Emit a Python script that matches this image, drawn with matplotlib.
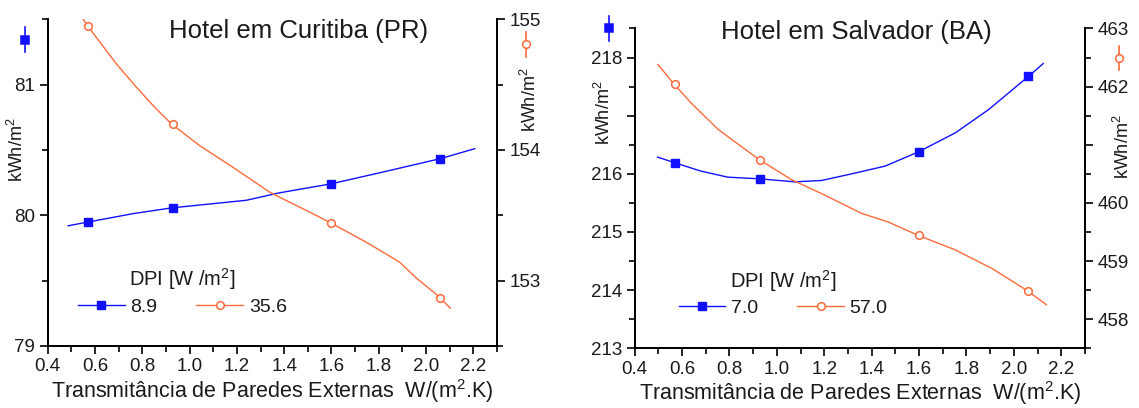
import matplotlib
matplotlib.use("Agg")
import matplotlib.pyplot as plt
from matplotlib.lines import Line2D
from matplotlib.ticker import MultipleLocator, FixedLocator, FuncFormatter

plt.rcParams['font.family'] = ['Liberation Sans', 'DejaVu Sans']

# ---------------- data ----------------
x_pts = [0.57, 0.93, 1.60, 2.06]
x_ticks = [0.4, 0.6, 0.8, 1.0, 1.2, 1.4, 1.6, 1.8, 2.0, 2.2]

# Curitiba
cur_blue_pts = [79.95, 80.057, 80.24, 80.433]
cur_orange_pts = [154.95, 154.196, 153.443, 152.87]
cur_blue_curve_x = [0.487, 0.575, 0.762, 0.925, 1.24, 1.38, 1.596, 1.803, 2.059, 2.206]
cur_blue_curve_y = [79.92, 79.95, 80.013, 80.057, 80.115, 80.172, 80.24, 80.325, 80.433, 80.51]
cur_orange_curve_x = [0.551, 0.569, 0.692, 0.776, 0.860, 0.926, 1.043, 1.183, 1.339, 1.394,
                      1.494, 1.596, 1.746, 1.887, 1.957, 2.053, 2.102]
cur_orange_curve_y = [155.0, 154.95, 154.656, 154.479, 154.313, 154.196, 154.033, 153.868,
                      153.677, 153.626, 153.537, 153.443, 153.295, 153.143, 153.023,
                      152.88, 152.79]
cur_labels = ['8.9', '35.6']

# Salvador
sal_blue_pts = [216.19, 215.914, 216.38, 217.684]
sal_orange_pts = [462.05, 460.74, 459.44, 458.49]
sal_blue_curve_x = [0.497, 0.57, 0.680, 0.793, 0.928, 1.076, 1.189, 1.316, 1.457, 1.598,
                    1.754, 1.895, 2.064, 2.124]
sal_blue_curve_y = [216.288, 216.19, 216.047, 215.943, 215.914, 215.862, 215.886, 216.0,
                    216.133, 216.379, 216.707, 217.11, 217.684, 217.897]
sal_orange_curve_x = [0.499, 0.565, 0.638, 0.751, 0.850, 0.928, 1.062, 1.189, 1.358, 1.471,
                      1.598, 1.754, 1.909, 2.057, 2.137]
sal_orange_curve_y = [462.38, 462.05, 461.72, 461.27, 460.97, 460.74, 460.40, 460.16, 459.82,
                      459.67, 459.44, 459.19, 458.87, 458.49, 458.25]
sal_labels = ['7.0', '57.0']

BLUE = '#1010ff'
ORANGE = '#ff6a3a'
TXT = '#1a1a1a'

fig = plt.figure(figsize=(11.39, 4.08), dpi=100)


def style_axis(ax):
    for s in ['left', 'right', 'bottom']:
        ax.spines[s].set_linewidth(1.3)
    ax.spines['top'].set_visible(False)
    ax.tick_params(which='major', direction='out', length=6, width=1.2,
                   labelsize=13.5, colors='black', labelcolor=TXT, pad=3)
    ax.tick_params(which='minor', direction='out', length=4, width=1.2)


def panel(rect, title, title_pos, ylimL, ylimR, yticksL, yticksR, hideL, hideR,
          bx, by, ox, oy, bpts, opts, labels, leg_pos,
          ylab_L, ylab_R, ind_b, ind_o):
    ax = fig.add_axes(rect)
    ax2 = ax.twinx()
    ax.plot(bx, by, color=BLUE, lw=1.0, zorder=3)
    ax.plot(x_pts, bpts, ls='none', marker='s', ms=6, color=BLUE, zorder=4)
    ax2.plot(ox, oy, color=ORANGE, lw=1.0, zorder=3)
    ax2.plot(x_pts, opts, ls='none', marker='o', ms=5.5, mfc='white', mec=ORANGE,
             mew=1.1, zorder=4)
    ax.set_xlim(0.4, 2.3)
    ax.set_ylim(*ylimL)
    ax2.set_ylim(*ylimR)
    ax.xaxis.set_major_locator(FixedLocator(x_ticks))
    ax.xaxis.set_major_formatter(FuncFormatter(lambda v, p: f"{v:.1f}"))
    ax.xaxis.set_minor_locator(MultipleLocator(0.1))
    ax.yaxis.set_major_locator(FixedLocator(yticksL))
    ax.yaxis.set_major_formatter(FuncFormatter(
        lambda v, p: '' if round(v) in hideL else f"{v:.0f}"))
    ax.yaxis.set_minor_locator(MultipleLocator(0.5))
    ax2.yaxis.set_major_locator(FixedLocator(yticksR))
    ax2.yaxis.set_major_formatter(FuncFormatter(
        lambda v, p: '' if round(v) in hideR else f"{v:.0f}"))
    ax2.yaxis.set_minor_locator(MultipleLocator(0.5))
    for a in (ax, ax2):
        style_axis(a)
    ax.patch.set_visible(False)

    ax.set_xlabel('Transmitância de Paredes Externas  W/(m$^\\mathregular{2}$.K)',
                  fontsize=15.5, color=TXT, labelpad=1)
    ax.set_ylabel('kWh/m$^\\mathregular{2}$', fontsize=13, color=TXT)
    ax.yaxis.set_label_coords(*ylab_L)
    ax2.set_ylabel('kWh/m$^\\mathregular{2}$', fontsize=13, color=TXT, rotation=90)
    ax2.yaxis.set_label_coords(*ylab_R)

    ax.text(title_pos[0], title_pos[1], title, transform=ax.transAxes,
            ha='center', va='baseline', fontsize=18.5, color=TXT)

    # axis indicators
    for (ix, iy), col, mk, mfc in ((ind_b, BLUE, 's', BLUE), (ind_o, ORANGE, 'o', 'white')):
        ax.add_line(Line2D([ix, ix], [iy - 0.038, iy + 0.038], transform=ax.transAxes,
                           color=col, lw=1.2, clip_on=False))
        ax.add_line(Line2D([ix], [iy], transform=ax.transAxes, color=col, marker=mk,
                           ms=6 if mk == 's' else 5.5, mfc=mfc, mec=col, mew=1.1,
                           ls='none', clip_on=False))

    h1 = Line2D([], [], color=BLUE, lw=1.0, marker='s', ms=6)
    h2 = Line2D([], [], color=ORANGE, lw=1.0, marker='o', ms=5.5, mfc='white', mec=ORANGE,
                mew=1.1)
    leg = ax2.legend([h1, h2], labels, title='DPI [W /m$^\\mathregular{2}$]', ncol=2,
                     loc='center', bbox_to_anchor=leg_pos, frameon=False, fontsize=14,
                     title_fontsize=14.5, handlelength=2.4, handletextpad=0.3,
                     columnspacing=2.0, borderpad=0.2, labelspacing=0.3)
    for t in leg.get_texts():
        t.set_color(TXT)
    leg.get_title().set_color(TXT)
    return ax, ax2


panel([0.0418, 0.152, 0.3946, 0.8007], 'Hotel em Curitiba (PR)', (0.559, 0.943),
      (79, 81.5), (152.5, 155.0), [79, 80, 81], [153, 154, 155], [], [],
      cur_blue_curve_x, cur_blue_curve_y, cur_orange_curve_x, cur_orange_curve_y,
      cur_blue_pts, cur_orange_pts, cur_labels, (0.30, 0.168),
      (-0.046, 0.60), (1.051, 0.753), (-0.050, 0.937), (1.064, 0.924))

panel([0.5571, 0.1463, 0.3955, 0.784], 'Hotel em Salvador (BA)', (0.493, 0.966),
      (213, 218.5), (457.5, 463.0), [213, 214, 215, 216, 217, 218],
      [458, 459, 460, 461, 462, 463], [217], [461],
      sal_blue_curve_x, sal_blue_curve_y, sal_orange_curve_x, sal_orange_curve_y,
      sal_blue_pts, sal_orange_pts, sal_labels, (0.33, 0.175),
      (-0.0455, 0.735), (1.062, 0.629), (-0.057, 1.0), (1.075, 0.907))

fig.savefig('out.png', dpi=100)
